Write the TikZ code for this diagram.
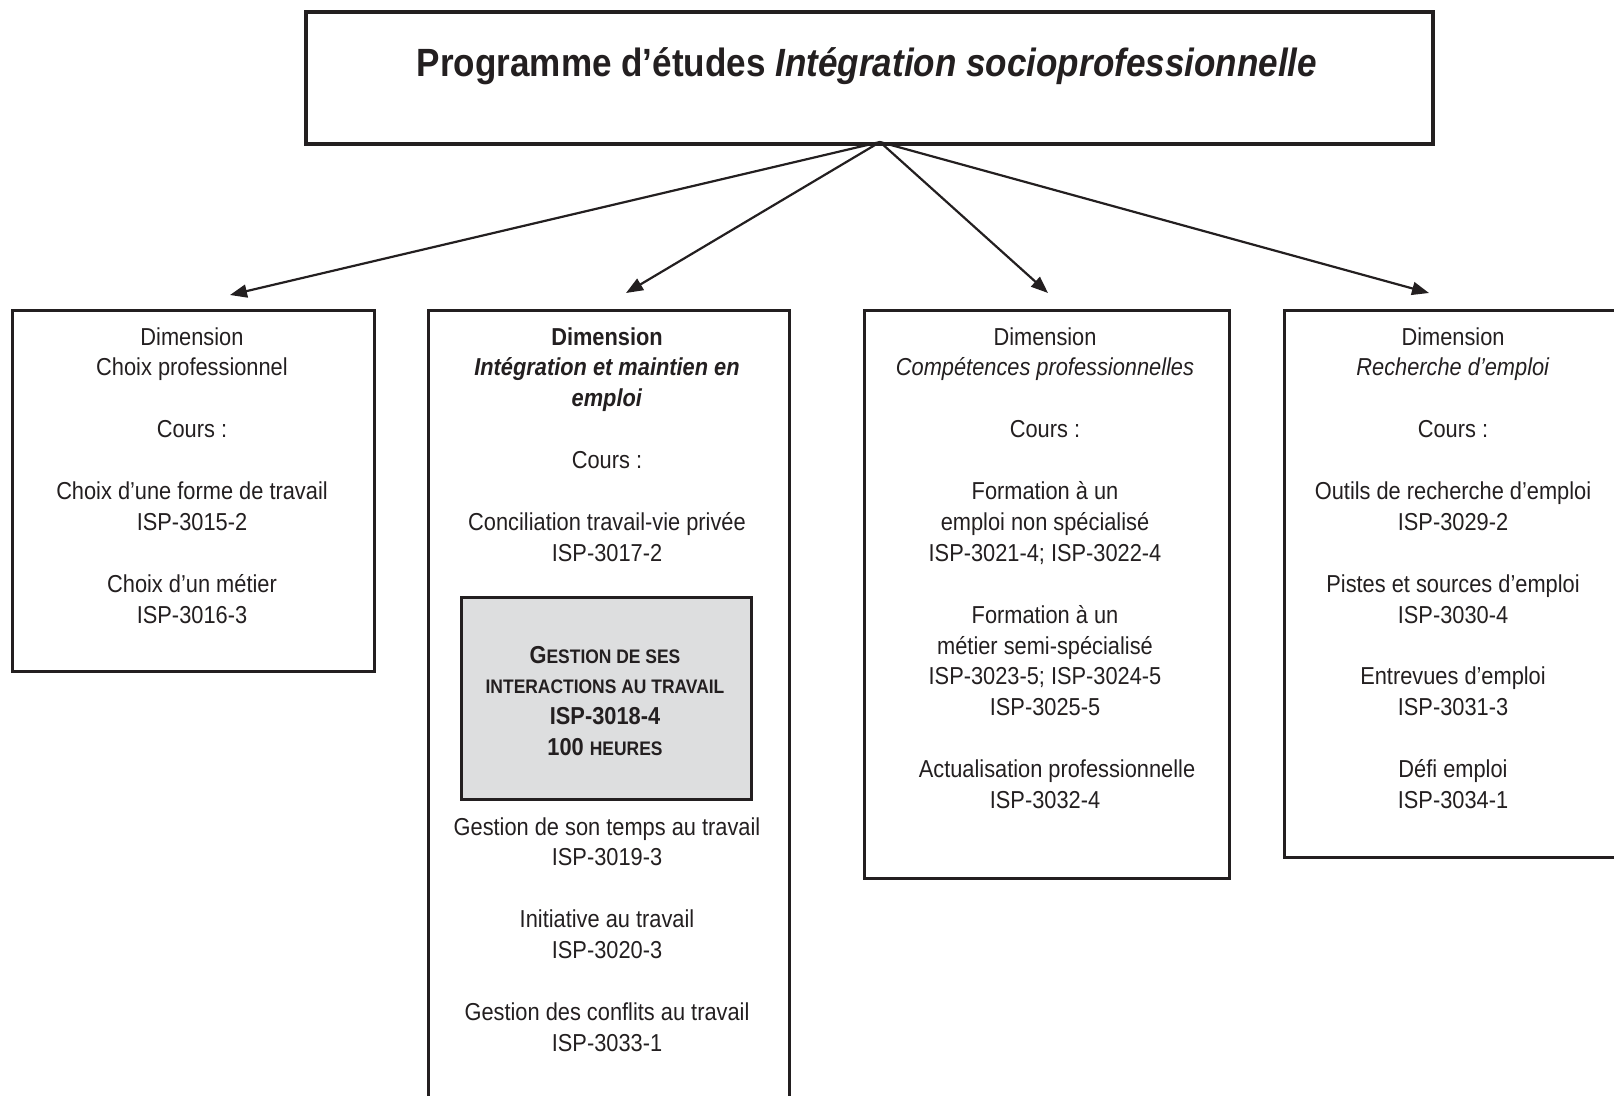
\documentclass[tikz,border=0pt]{standalone}
\usepackage{fontspec}
\setmainfont{Liberation Sans}[FakeStretch=0.89]
\usetikzlibrary{arrows.meta}
\definecolor{ink}{HTML}{231F20}
\definecolor{shade}{HTML}{DDDEDF}
% reduced capitals for the highlighted course
\newcommand\redcaps[1]{{\fontsize{19.6bp}{30.9bp}\selectfont #1}}
\newcommand\col[1]{\begin{tabular}[t]{@{}c@{}}#1\end{tabular}}
\begin{document}
\begin{tikzpicture}[x=1bp, y=-1bp,
  frame/.style={draw=ink, line width=3.2bp, anchor=north west, inner sep=0pt},
  txt/.style={inner sep=0pt, anchor=base, text=ink, font=\fontsize{24.5bp}{30.9bp}\selectfont},
  arr/.style={draw=ink, line width=2.2bp, -{Triangle[length=17bp,width=13bp]}}]
\useasboundingbox (0,0) rectangle (1614,1095);
\clip (0,0) rectangle (1614,1095);

% programme heading
\node[frame, line width=4bp, minimum width=1127bp, minimum height=132bp] (top) at (304,10) {};
\node[txt, font=\fontsize{39.4bp}{48bp}\selectfont\bfseries] (title) at (867,76)
  {Programme d’études \textit{Intégration socioprofessionnelle}};

% dimension frames
\node[frame, minimum width=362bp, minimum height=361bp] (b1) at (11,309) {};
\node[frame, minimum width=361bp, minimum height=820bp] (b2) at (427,309) {};
\node[frame, minimum width=365bp, minimum height=568bp] (b3) at (863,309) {};
\node[frame, minimum width=360bp, minimum height=547bp] (b4) at (1283,309) {};
\node[frame, fill=shade, minimum width=290bp, minimum height=202bp] (g) at (460,596) {};

% connectors
\coordinate (apex) at (880,142);
\coordinate (e1) at (230,295);
\coordinate (e2) at (626,293);
\coordinate (e3) at (1048,293);
\coordinate (e4) at (1429,293);
\foreach \e in {e1,e2,e3,e4} \draw[arr] (apex) -- (\e);

% dimension texts
\node[txt] (t1) at (192,345) {\col{Dimension\\Choix professionnel\\ \\Cours :\\ \\Choix d’une forme de travail\\ISP-3015-2\\ \\Choix d’un métier\\ISP-3016-3}};

\node[txt] (t2) at (607,345) {\col{\textbf{Dimension}\\\textbf{\textit{Intégration et maintien en}}\\\textbf{\textit{emploi}}\\ \\Cours :\\ \\Conciliation travail-vie privée\\ISP-3017-2}};

\node[txt, font=\fontsize{24.5bp}{30.9bp}\selectfont\bfseries] (tg) at (605,663) {\col{G\redcaps{ESTION DE SES}\\\redcaps{INTERACTIONS AU TRAVAIL}\\ISP-3018-4\\100 \redcaps{HEURES}}};

\node[txt] (t2b) at (607,835) {\col{Gestion de son temps au travail\\ISP-3019-3\\ \\Initiative au travail\\ISP-3020-3\\ \\Gestion des conflits au travail\\ISP-3033-1}};

\node[txt] (t3) at (1045,345) {\col{Dimension\\\textit{Compétences professionnelles}\\ \\Cours :\\ \\Formation à un\\emploi non spécialisé\\ISP-3021-4; ISP-3022-4\\ \\Formation à un\\métier semi-spécialisé\\ISP-3023-5; ISP-3024-5\\ISP-3025-5\\ \\\hspace*{24bp}Actualisation professionnelle\\ISP-3032-4}};

\node[txt] (t4) at (1453,345) {\col{Dimension\\\textit{Recherche d’emploi}\\ \\Cours :\\ \\Outils de recherche d’emploi\\ISP-3029-2\\ \\Pistes et sources d’emploi\\ISP-3030-4\\ \\Entrevues d’emploi\\ISP-3031-3\\ \\Défi emploi\\ISP-3034-1}};
\end{tikzpicture}
\end{document}
